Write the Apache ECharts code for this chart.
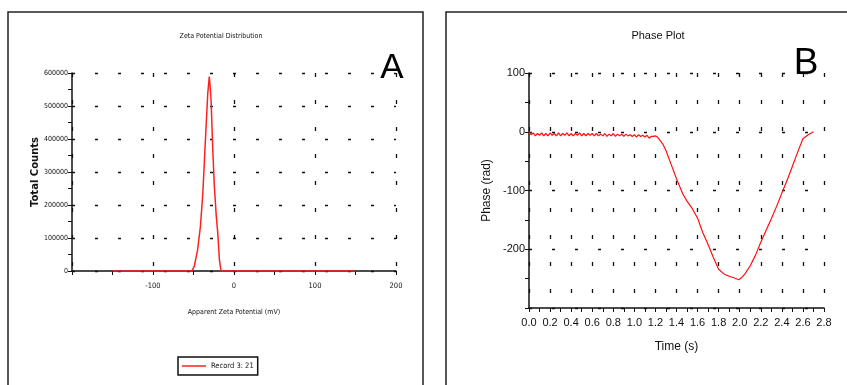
<!DOCTYPE html>
<html><head><meta charset="utf-8">
<script src="https://cdn.jsdelivr.net/npm/echarts@6/dist/echarts.min.js"></script>
<style>html,body{margin:0;padding:0;background:#fff}#c{width:847px;height:385px}</style>
</head><body><div id="c"></div>
<script>
// Panel A: Zeta potential distribution
const zetaMv = [-150, -52, -49, -45, -41.5, -38.5, -36.5, -34.5, -32.4, -30.5, -29.5, -28.3, -26.2, -24.2, -22, -20, -18, -16, 150];
const zetaCounts = [0, 0, 15000, 63000, 134000, 235000, 336000, 437000, 538000, 589000, 560000, 518000, 367000, 255000, 170000, 114000, 33000, 0, 0];
const zetaSeriesName = 'Record 3: 21';

// Panel B: Phase plot
const timeS = [0.00,0.02,0.04,0.06,0.08,0.10,0.12,0.14,0.16,0.18,0.20,0.22,0.24,0.26,0.28,0.30,0.32,0.34,0.36,0.38,
  0.40,0.42,0.44,0.46,0.48,0.50,0.52,0.54,0.56,0.58,0.60,0.62,0.64,0.66,0.68,0.70,0.72,0.74,0.76,0.78,
  0.80,0.82,0.84,0.86,0.88,0.90,0.92,0.94,0.96,0.98,1.00,1.02,1.04,1.06,1.08,1.10,1.12,1.14,1.16,1.18,1.20,
  1.22,1.27,1.30,1.35,1.40,1.46,1.50,1.55,1.60,1.65,1.70,1.75,1.80,1.85,1.90,1.95,1.99,2.02,2.05,2.10,
  2.15,2.20,2.25,2.30,2.35,2.41,2.46,2.51,2.56,2.60,2.65,2.70];
const phaseRad = [0,-5,-2,-7,-3,-6,-2,-7,-3,-7,-2,-6,-3,-7,-2,-7,-3,-6,-2,-7,
  -3,-7,-3,-6,-2,-7,-3,-7,-3,-6,-3,-7,-3,-7,-4,-7,-3,-8,-4,-7,
  -3,-8,-4,-7,-4,-8,-4,-7,-5,-8,-5,-9,-5,-8,-6,-9,-6,-11,-8,-8,-7,
  -9,-21,-32,-56,-80,-106,-118,-131,-147,-172,-192,-214,-234,-242,-246,-249,-252,-248,-242,-228,
  -210,-188,-168,-148,-127,-100,-78,-54,-30,-12,-5,0];

const narrow = '"Liberation Sans Narrow", "Arial Narrow", "DejaVu Sans Condensed", sans-serif';
const sans = '"Liberation Sans", Arial, sans-serif';
const ink = '#111';

const chart = echarts.init(document.getElementById('c'), null, {renderer: 'canvas'});

const axisLine = {onZero: false, lineStyle: {color: ink, width: 1.5}};
const tick = {show: true, length: 4, lineStyle: {color: ink, width: 1}};
const minorTick = {show: true, splitNumber: 2, length: 4, lineStyle: {color: ink, width: 1}};
const hDash = {show: true, lineStyle: {color: ink, width: 1.3, type: [3, 20]}};
const vDash = {show: true, lineStyle: {color: ink, width: 1.3, type: [4, 23]}};

chart.setOption({
  animation: false,
  backgroundColor: '#fff',
  title: [
    {text: 'Zeta Potential Distribution', left: 216, top: 28, textAlign: 'center',
     textStyle: {fontSize: 7, fontWeight: 'normal', fontFamily: narrow, color: ink}},
    {text: 'Phase Plot', left: 653, top: 25, textAlign: 'center',
     textStyle: {fontSize: 11, fontWeight: 'normal', fontFamily: sans, color: ink}}
  ],
  legend: {
    data: [zetaSeriesName], left: 178, top: 357, orient: 'horizontal',
    borderColor: ink, borderWidth: 1.5, borderRadius: 0, padding: [5, 4, 5, 4],
    icon: 'rect', itemWidth: 24, itemHeight: 1.5, itemGap: 4,
    textStyle: {fontSize: 7.5, fontFamily: narrow, color: ink}
  },
  grid: [
    {left: 72, top: 73, width: 324, height: 198},
    {left: 529, top: 73, width: 295, height: 235}
  ],
  xAxis: [
    {gridIndex: 0, type: 'value', min: -200, max: 200, interval: 100,
     axisLine: axisLine, axisTick: tick, minorTick: minorTick, splitLine: vDash,
     axisLabel: {formatter: v => (v === -200 ? '' : String(v)), fontSize: 7.5, fontFamily: narrow, color: ink, margin: 11},
     name: 'Apparent Zeta Potential (mV)', nameLocation: 'middle', nameGap: 38,
     nameTextStyle: {fontSize: 7, fontFamily: narrow, color: ink}},
    {gridIndex: 1, type: 'value', min: 0, max: 2.8, interval: 0.2,
     axisLine: axisLine, axisTick: tick, minorTick: minorTick, splitLine: vDash,
     axisLabel: {formatter: v => v.toFixed(1), fontSize: 11, fontFamily: sans, color: ink, margin: 9},
     name: 'Time (s)', nameLocation: 'middle', nameGap: 33,
     nameTextStyle: {fontSize: 12, fontFamily: sans, color: ink}}
  ],
  yAxis: [
    {gridIndex: 0, type: 'value', min: 0, max: 600000, interval: 100000,
     axisLine: axisLine, axisTick: tick, minorTick: minorTick, splitLine: hDash,
     axisLabel: {formatter: v => String(v), fontSize: 7, fontFamily: narrow, color: ink, margin: 4},
     name: 'Total Counts', nameLocation: 'middle', nameGap: 29, nameRotate: 90,
     nameTextStyle: {fontSize: 10, fontWeight: 'bold', fontFamily: '"DejaVu Sans", sans-serif', color: ink}},
    {gridIndex: 1, type: 'value', min: -300, max: 100, interval: 100,
     axisLine: axisLine, axisTick: tick, minorTick: minorTick, splitLine: hDash,
     axisLabel: {formatter: v => (v === -300 ? '' : String(v)), fontSize: 11, fontFamily: sans, color: ink, margin: 4},
     name: 'Phase (rad)', nameLocation: 'middle', nameGap: 36, nameRotate: 90,
     nameTextStyle: {fontSize: 12, fontFamily: sans, color: ink}}
  ],
  series: [
    {name: zetaSeriesName, type: 'line', xAxisIndex: 0, yAxisIndex: 0, symbol: 'none',
     lineStyle: {color: '#ff2020', width: 1.5}, itemStyle: {color: '#ff2020'},
     data: zetaMv.map((x, i) => [x, zetaCounts[i]]), z: 5},
    {name: 'Phase', type: 'line', xAxisIndex: 1, yAxisIndex: 1, symbol: 'none',
     lineStyle: {color: '#ff1010', width: 1.2}, itemStyle: {color: '#ff1010'},
     data: timeS.map((t, i) => [t, phaseRad[i]]), z: 5}
  ],
  graphic: [
    {type: 'rect', silent: true, z: -1, shape: {x: 8, y: 12, width: 415, height: 400},
     style: {fill: 'none', stroke: '#222', lineWidth: 1.5}},
    {type: 'rect', silent: true, z: -1, shape: {x: 446, y: 12, width: 420, height: 400},
     style: {fill: 'none', stroke: '#222', lineWidth: 1.5}},
    {type: 'text', silent: true, x: 392, y: 68,
     style: {text: 'A', fontSize: 35, fontFamily: sans, fill: '#000', textAlign: 'center', textVerticalAlign: 'middle'}},
    {type: 'text', silent: true, x: 806, y: 64,
     style: {text: 'B', fontSize: 37, fontFamily: sans, fill: '#000', textAlign: 'center', textVerticalAlign: 'middle'}}
  ]
});
</script>
</body></html>
